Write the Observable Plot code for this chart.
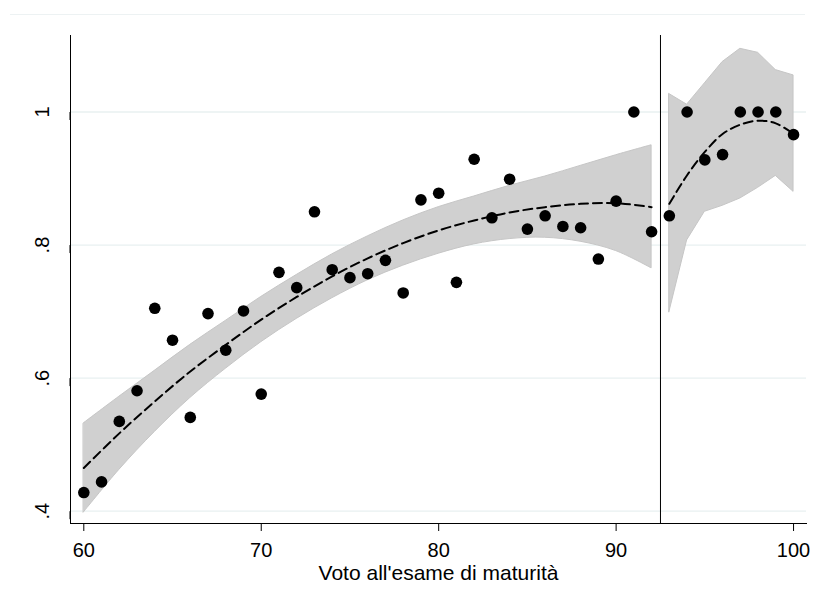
<!DOCTYPE html>
<html>
<head>
<meta charset="utf-8">
<script src="https://cdn.jsdelivr.net/npm/d3@7"></script>
<script src="https://cdn.jsdelivr.net/npm/@observablehq/plot@0.6"></script>
<style>
  html, body { margin: 0; padding: 0; background: #fff; }
  #wrap { position: relative; width: 815px; height: 595px; }
  #topline { position: absolute; left: 10px; top: 14px; width: 795px; height: 1px; background: #edf2f3; }
</style>
</head>
<body>
<div id="wrap"><div id="topline"></div></div>
<script>
// ---- data ----
const scores = [60,61,62,63,64,65,66,67,68,69,70,71,72,73,74,75,76,77,78,79,80,
                81,82,83,84,85,86,87,88,89,90,91,92,93,94,95,96,97,98,99,100];
const shares = [0.428,0.444,0.535,0.581,0.705,0.657,0.541,0.697,0.642,0.701,0.576,
                0.759,0.736,0.850,0.763,0.751,0.757,0.777,0.728,0.868,0.878,
                0.744,0.929,0.841,0.899,0.824,0.844,0.828,0.826,0.779,0.866,
                1.000,0.820,0.844,1.000,0.928,0.936,1.000,1.000,1.000,0.966];

// left segment (below cutoff): quadratic fit and 95% CI
const leftX   = [60,62,64,66,68,70,72,74,76,78,80,82,84,86,88,90,92];
const leftFit = [0.465,0.517,0.565,0.610,0.650,0.688,0.722,0.753,0.780,0.803,0.822,0.837,0.849,0.857,0.862,0.863,0.857];
const leftLo  = [0.398,0.462,0.519,0.570,0.614,0.654,0.689,0.720,0.747,0.769,0.787,0.801,0.809,0.811,0.805,0.791,0.765];
const leftHi  = [0.532,0.572,0.611,0.650,0.686,0.722,0.755,0.786,0.813,0.837,0.857,0.873,0.889,0.903,0.919,0.935,0.950];

// right segment (above cutoff)
const rightX   = [93,94,95,96,97,98,99,100];
const rightFit = [0.862,0.905,0.940,0.967,0.981,0.987,0.983,0.967];
const rightLo  = [0.699,0.807,0.850,0.859,0.870,0.886,0.904,0.880];
const rightHi  = [1.027,1.011,1.043,1.075,1.095,1.089,1.063,1.055];

const cutoff = 92.5;
const xTicks = [60,70,80,90,100];
const yTicks = [0.4,0.6,0.8,1];
const yTickLabels = [".4",".6",".8","1"];
const xTitle = "Voto all'esame di maturità";

// ---- tables ----
const pts = scores.map((x,i) => ({x, y: shares[i]}));
const left = leftX.map((x,i) => ({x, fit: leftFit[i], lo: leftLo[i], hi: leftHi[i]}));
const right = rightX.map((x,i) => ({x, fit: rightFit[i], lo: rightLo[i], hi: rightHi[i]}));

const font = "'Liberation Sans', Arial, Helvetica, sans-serif";

const chart = Plot.plot({
  width: 815,
  height: 595,
  marginLeft: 70,
  marginRight: 9,
  marginTop: 35,
  marginBottom: 72,
  style: {fontFamily: font, fontSize: "20px", color: "#000", background: "transparent"},
  x: {domain: [59.25, 100.73]},
  y: {domain: [0.3815, 1.115]},
  marks: [
    Plot.ruleY(yTicks, {stroke: "#e8f0f1", strokeWidth: 1.3}),
    Plot.areaY(left, {x: "x", y1: "lo", y2: "hi", fill: "#d0d0d0", stroke: "#c6c6c6", strokeWidth: 1, curve: "catmull-rom"}),
    Plot.areaY(right, {x: "x", y1: "lo", y2: "hi", fill: "#d0d0d0", stroke: "#c6c6c6", strokeWidth: 1}),
    Plot.line(left, {x: "x", y: "fit", stroke: "#000", strokeWidth: 2, strokeDasharray: "9,5", curve: "catmull-rom"}),
    Plot.line(right, {x: "x", y: "fit", stroke: "#000", strokeWidth: 2, strokeDasharray: "9,5", curve: "catmull-rom"}),
    Plot.dot(pts, {x: "x", y: "y", r: 5.8, fill: "#000", stroke: "none"}),
    Plot.ruleX([cutoff], {stroke: "#000", strokeWidth: 1}),
    Plot.frame({anchor: "left", stroke: "#000", strokeWidth: 1}),
    Plot.frame({anchor: "bottom", stroke: "#000", strokeWidth: 1}),
    Plot.axisY({ticks: yTicks, tickFormat: (d) => yTickLabels[yTicks.indexOf(d)], tickSize: 8, tickPadding: 20,
                rotate: -90, textAnchor: "middle", lineAnchor: "middle", label: null, stroke: "#000"}),
    Plot.axisX({ticks: xTicks, tickFormat: (d) => String(d), tickSize: 8, tickPadding: 11, label: null, stroke: "#000"}),
    Plot.text([xTitle], {frameAnchor: "bottom", dy: 56, text: (d) => d, fontSize: 21, fill: "#000"})
  ]
});
document.getElementById("wrap").appendChild(chart);
</script>
</body>
</html>
